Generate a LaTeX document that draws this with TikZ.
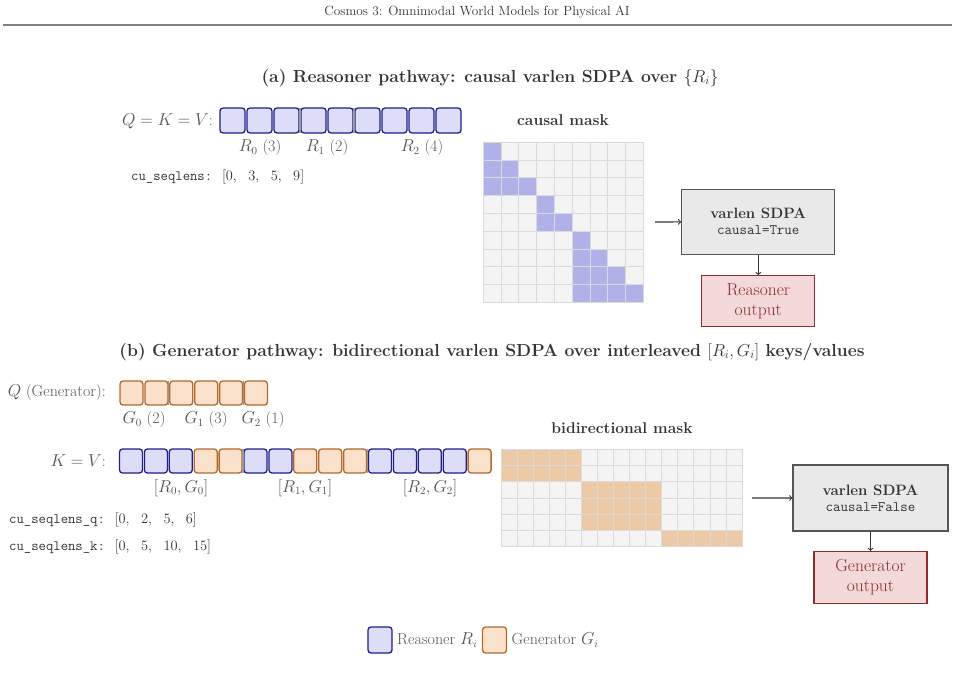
\documentclass[tikz,border=0pt]{standalone}
\usepackage{amsmath}
\usepackage{tikz}
\usetikzlibrary{positioning}

\definecolor{rfill}{HTML}{DDDDF8}
\definecolor{rdraw}{HTML}{1E1E8C}
\definecolor{gfill}{HTML}{F9E1CB}
\definecolor{gdraw}{HTML}{B2692A}
\definecolor{rmask}{HTML}{B1B1E9}
\definecolor{gmask}{HTML}{ECCAA7}
\definecolor{cellfill}{HTML}{F4F4F4}
\definecolor{celldraw}{HTML}{DADADA}
\definecolor{sdpafill}{HTML}{E9E9E9}
\definecolor{sdpadraw}{HTML}{555555}
\definecolor{outfill}{HTML}{F3D9D9}
\definecolor{outdraw}{HTML}{8E2B2B}
\definecolor{txtgray}{HTML}{555555}
\definecolor{txtdark}{HTML}{333333}

\newcommand{\fsz}[1]{\fontsize{#1}{#1}\selectfont}
\newcommand{\seqlist}[1]{{\rmfamily\fsz{15}$[#1]$}}

\begin{document}
\begin{tikzpicture}[x=1pt, y=-1pt,
  rtok/.style={draw=rdraw, fill=rfill, line width=1.3pt, rounded corners=3pt, minimum width=25pt, minimum height=25pt, inner sep=0pt, outer sep=0pt},
  gtok/.style={rtok, draw=gdraw, fill=gfill},
  rsm/.style={rtok, minimum width=23pt, minimum height=24pt},
  gsm/.style={gtok, minimum width=23pt, minimum height=24pt},
  sepline/.style={draw=gray!80, line width=1.2pt},
  lbl/.style={text=txtgray, font=\fsz{16}, inner sep=0pt},
  mono/.style={text=txtdark, font=\fsz{14.3}\ttfamily, inner sep=0pt},
  ttl/.style={text=txtdark, font=\fsz{17.5}\bfseries, inner sep=0pt},
  masklbl/.style={text=txtdark, font=\fsz{15.6}\bfseries, inner sep=0pt},
  cell/.style={fill=cellfill, draw=celldraw, line width=0.8pt},
  sdpa/.style={draw=sdpadraw, fill=sdpafill, line width=1.2pt, align=center, text=txtdark, font=\fsz{15}},
  outbox/.style={draw=outdraw, fill=outfill, line width=1.2pt, align=center, text=outdraw, font=\fontsize{17.5}{20}\selectfont, minimum width=113pt},
  flow/.style={->, draw=txtdark, line width=1.1pt}]
\useasboundingbox (0,0) rectangle (955,677);

% page header
\node[text=txtdark, font=\fsz{13.3}] (hdr) at (477,12) {Cosmos 3: Omnimodal World Models for Physical AI};
\draw[gray, line width=1.8pt] (3,25) -- (952,25);

% (a) reasoner pathway
\node[ttl] (ttla) at (490,78) {(a) Reasoner pathway: causal varlen SDPA over $\{R_i\}$};
\node[lbl, anchor=east] (qkv) at (213,121) {$Q = K = V$:};
\foreach \i in {1,...,9}
  \node[rtok] (ra\i) at ({232.5+27*(\i-1)},120.5) {};
\draw[sepline] ([xshift=1pt]ra3.north east) -- ([xshift=1pt]ra3.south east);
\draw[sepline] ([xshift=1pt]ra5.north east) -- ([xshift=1pt]ra5.south east);
\node[lbl] (lr0) at (260,148) {$R_0$ (3)};
\node[lbl] (lr1) at (327,148) {$R_1$ (2)};
\node[lbl] (lr2) at (422,148) {$R_2$ (4)};
\node[mono, anchor=west] (cua) at (131,177) {cu\_seqlens: \seqlist{0,\ \ 3,\ \ 5,\ \ 9}};

% causal mask
\node[masklbl] (mlA) at (563,120) {causal mask};
\foreach \r in {0,...,8}
  \foreach \c in {0,...,8}
    \filldraw[cell] ({483.3+17.78*\c},{142.3+17.78*\r}) rectangle +(17.78,17.78);
\foreach \r/\s in {0/0,1/0,2/0,3/3,4/3,5/5,6/5,7/5,8/5}
  \foreach \c in {\s,...,\r}
    \filldraw[cell, fill=rmask] ({483.3+17.78*\c},{142.3+17.78*\r}) rectangle +(17.78,17.78);
\coordinate (arrA) at (655,222);
\node[sdpa, minimum width=153pt, minimum height=65pt] (sdpaA) at (758.3,221.7) {\textbf{varlen SDPA}\\[1pt]{\fsz{14.5}\ttfamily causal=True}};
\node[outbox, minimum height=51pt] (outA) at (758.3,301.3) {Reasoner\\output};
\draw[flow] (arrA) -- (sdpaA);
\draw[flow] (sdpaA) -- (outA);

% (b) generator pathway
\node[ttl] (ttlb) at (492,352) {(b) Generator pathway: bidirectional varlen SDPA over interleaved $[R_i, G_i]$ keys/values};
\node[lbl, anchor=east] (qgen) at (106,393) {$Q$ (Generator):};
\foreach \i in {1,...,6}
  \node[gsm] (qg\i) at ({131.5+24.9*(\i-1)},393) {};
\draw[sepline] ([xshift=0.95pt]qg2.north east) -- ([xshift=0.95pt]qg2.south east);
\draw[sepline] ([xshift=0.95pt]qg5.north east) -- ([xshift=0.95pt]qg5.south east);
\node[lbl] (lg0) at (144,420) {$G_0$ (2)};
\node[lbl] (lg1) at (206,420) {$G_1$ (3)};
\node[lbl] (lg2) at (263,420) {$G_2$ (1)};

\node[lbl, anchor=east] (kvl) at (106,461) {$K = V$:};
\foreach \i/\s in {1/rsm,2/rsm,3/rsm,4/gsm,5/gsm,6/rsm,7/rsm,8/gsm,9/gsm,10/gsm,11/rsm,12/rsm,13/rsm,14/rsm,15/gsm}
  \node[\s] (kv\i) at ({131+24.9*(\i-1)},461) {};
\draw[sepline] ([xshift=0.95pt]kv5.north east) -- ([xshift=0.95pt]kv5.south east);
\draw[sepline] ([xshift=0.95pt]kv10.north east) -- ([xshift=0.95pt]kv10.south east);
\node[lbl] (lrg0) at (181,488) {$[R_0, G_0]$};
\node[lbl] (lrg1) at (305,488) {$[R_1, G_1]$};
\node[lbl] (lrg2) at (430,488) {$[R_2, G_2]$};
\node[mono, anchor=west] (cuq) at (9,520) {cu\_seqlens\_q: \seqlist{0,\ \ 2,\ \ 5,\ \ 6}};
\node[mono, anchor=west] (cuk) at (9,547) {cu\_seqlens\_k: \seqlist{0,\ \ 5,\ \ 10,\ \ 15}};

% bidirectional mask
\node[masklbl] (mlB) at (622,428) {bidirectional mask};
\foreach \r in {0,...,5}
  \foreach \c in {0,...,14}
    \filldraw[cell] ({501+16.07*\c},{449.3+16.22*\r}) rectangle +(16.07,16.22);
\foreach \r/\a/\b in {0/0/4,1/0/4,2/5/9,3/5/9,4/5/9,5/10/14}
  \foreach \c in {\a,...,\b}
    \filldraw[cell, fill=gmask] ({501+16.07*\c},{449.3+16.22*\r}) rectangle +(16.07,16.22);
\coordinate (arrB) at (752,498);
\node[sdpa, minimum width=155pt, minimum height=66pt] (sdpaB) at (870.5,497.9) {\textbf{varlen SDPA}\\[1pt]{\fsz{14.5}\ttfamily causal=False}};
\node[outbox, minimum height=52pt] (outB) at (870.5,577.5) {Generator\\output};
\draw[flow] (arrB) -- (sdpaB);
\draw[flow] (sdpaB) -- (outB);

% legend
\node[rtok, minimum width=24pt, minimum height=26pt] (legR) at (380,640) {};
\node[lbl, right=5pt of legR] (legRt) {Reasoner $R_i$};
\node[gtok, minimum width=24pt, minimum height=26pt, right=5pt of legRt] (legG) {};
\node[lbl, right=5pt of legG] (legGt) {Generator $G_i$};
\end{tikzpicture}
\end{document}
